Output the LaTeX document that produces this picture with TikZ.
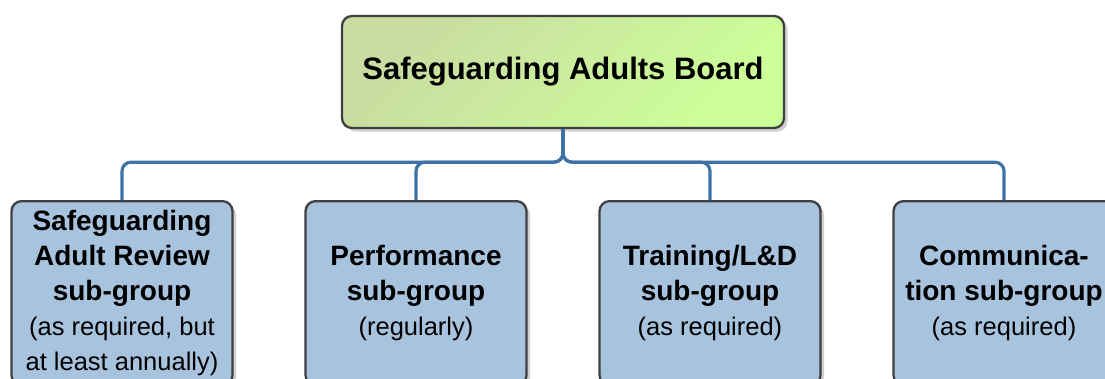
\documentclass[tikz,border=0pt]{standalone}
\usepackage{fontspec}
\setmainfont{Liberation Sans}
\usetikzlibrary{shadows}
\definecolor{boardA}{RGB}{201,219,161}
\definecolor{boardB}{RGB}{204,255,153}
\definecolor{groupfill}{RGB}{167,195,222}
\definecolor{edgegray}{RGB}{64,64,64}
\definecolor{linkblue}{RGB}{62,114,166}
\begin{document}
\begin{tikzpicture}[x=1pt,y=-1pt,
  boxbase/.style={draw=edgegray,line width=2.3pt,rounded corners=10pt,
    align=center,inner sep=0pt,
    drop shadow={shadow xshift=3.5pt,shadow yshift=-3.5pt,fill=black!18,opacity=1}},
  boardbox/.style={boxbase,minimum width=442pt,minimum height=112pt,
    top color=boardA,bottom color=boardB,shading angle=45,
    font=\fontsize{31}{36}\selectfont\bfseries},
  groupbox/.style={boxbase,fill=groupfill,minimum width=221pt,minimum height=184pt,anchor=north,
    font=\fontsize{28}{35}\selectfont},
  conn/.style={draw=linkblue,line width=3.2pt,rounded corners=9pt},
]
\useasboundingbox (0,0) rectangle (1105,378);
\clip (0,0) rectangle (1105,378);

\newcommand{\headtext}{\bfseries}
\newcommand{\subtext}{\fontsize{25.5}{35}\selectfont\mdseries}

\node[boardbox] (board) at (563,72) {Safeguarding Adults Board};

\node[groupbox] (sar) at (122,200)
  {\headtext Safeguarding\\ \headtext Adult Review\\ \headtext sub-group\\
   \subtext (as required, but\\ \subtext at least annually)};
\node[groupbox] (perf) at (416,200)
  {\headtext Performance\\ \headtext sub-group\\ \subtext (regularly)};
\node[groupbox] (train) at (710,200)
  {\headtext Training/L\&D\\ \headtext sub-group\\ \subtext (as required)};
\node[groupbox] (comm) at (1004,200)
  {\headtext Communica-\\ \headtext tion sub-group\\ \subtext (as required)};

\foreach \g in {sar,perf,train,comm}
  \draw[conn] (board.south) -- ++(0,33) -| (\g.north);
\end{tikzpicture}
\end{document}
